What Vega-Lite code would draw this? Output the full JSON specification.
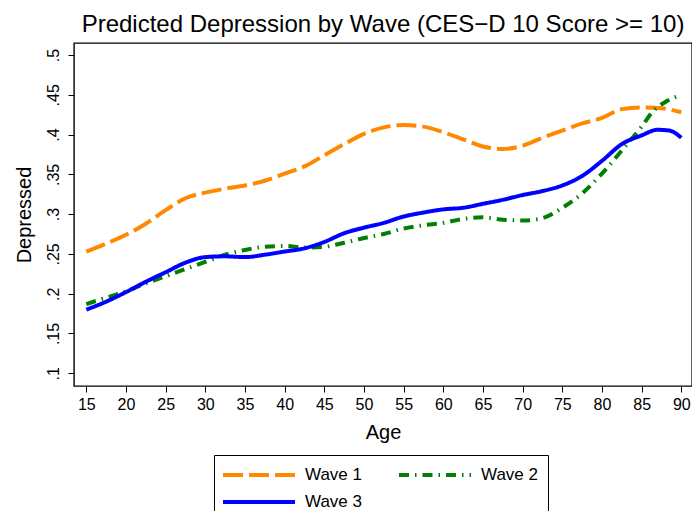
{
  "$schema": "https://vega.github.io/schema/vega-lite/v6.json",
  "autosize": {"type": "none"},
  "width": 618,
  "height": 343,
  "padding": {"left": 74, "top": 43, "right": 0, "bottom": 125},
  "background": "white",
  "title": {
    "text": "Predicted Depression by Wave (CES−D 10 Score >= 10)",
    "font": "Liberation Sans",
    "fontSize": 24,
    "fontWeight": "normal",
    "color": "black",
    "anchor": "middle",
    "frame": "group",
    "baseline": "alphabetic",
    "offset": 11,
    "dy": 24
  },
  "data": {
    "values": [
      {"wave": "Wave 1", "age": 15, "p": 0.253},
      {"wave": "Wave 1", "age": 17.5, "p": 0.263},
      {"wave": "Wave 1", "age": 20, "p": 0.274},
      {"wave": "Wave 1", "age": 22.5, "p": 0.288},
      {"wave": "Wave 1", "age": 25, "p": 0.305},
      {"wave": "Wave 1", "age": 27.5, "p": 0.32},
      {"wave": "Wave 1", "age": 30, "p": 0.327},
      {"wave": "Wave 1", "age": 32.5, "p": 0.332},
      {"wave": "Wave 1", "age": 35, "p": 0.336},
      {"wave": "Wave 1", "age": 37.5, "p": 0.342},
      {"wave": "Wave 1", "age": 40, "p": 0.351},
      {"wave": "Wave 1", "age": 42.5, "p": 0.36},
      {"wave": "Wave 1", "age": 45, "p": 0.374},
      {"wave": "Wave 1", "age": 47.5, "p": 0.388},
      {"wave": "Wave 1", "age": 50, "p": 0.401},
      {"wave": "Wave 1", "age": 52.5, "p": 0.409},
      {"wave": "Wave 1", "age": 55, "p": 0.412},
      {"wave": "Wave 1", "age": 57.5, "p": 0.41},
      {"wave": "Wave 1", "age": 60, "p": 0.403},
      {"wave": "Wave 1", "age": 62.5, "p": 0.394},
      {"wave": "Wave 1", "age": 65, "p": 0.385},
      {"wave": "Wave 1", "age": 67.5, "p": 0.382},
      {"wave": "Wave 1", "age": 70, "p": 0.386},
      {"wave": "Wave 1", "age": 72.5, "p": 0.396},
      {"wave": "Wave 1", "age": 75, "p": 0.405},
      {"wave": "Wave 1", "age": 77.5, "p": 0.414},
      {"wave": "Wave 1", "age": 80, "p": 0.421},
      {"wave": "Wave 1", "age": 82.5, "p": 0.432},
      {"wave": "Wave 1", "age": 85, "p": 0.434},
      {"wave": "Wave 1", "age": 87.5, "p": 0.433},
      {"wave": "Wave 1", "age": 90, "p": 0.428},

      {"wave": "Wave 2", "age": 15, "p": 0.187},
      {"wave": "Wave 2", "age": 17.5, "p": 0.195},
      {"wave": "Wave 2", "age": 20, "p": 0.203},
      {"wave": "Wave 2", "age": 22.5, "p": 0.213},
      {"wave": "Wave 2", "age": 25, "p": 0.222},
      {"wave": "Wave 2", "age": 27.5, "p": 0.231},
      {"wave": "Wave 2", "age": 30, "p": 0.24},
      {"wave": "Wave 2", "age": 32.5, "p": 0.249},
      {"wave": "Wave 2", "age": 35, "p": 0.255},
      {"wave": "Wave 2", "age": 37.5, "p": 0.259},
      {"wave": "Wave 2", "age": 40, "p": 0.26},
      {"wave": "Wave 2", "age": 42.5, "p": 0.258},
      {"wave": "Wave 2", "age": 45, "p": 0.259},
      {"wave": "Wave 2", "age": 47.5, "p": 0.264},
      {"wave": "Wave 2", "age": 50, "p": 0.27},
      {"wave": "Wave 2", "age": 52.5, "p": 0.275},
      {"wave": "Wave 2", "age": 55, "p": 0.282},
      {"wave": "Wave 2", "age": 57.5, "p": 0.286},
      {"wave": "Wave 2", "age": 60, "p": 0.289},
      {"wave": "Wave 2", "age": 62.5, "p": 0.294},
      {"wave": "Wave 2", "age": 65, "p": 0.296},
      {"wave": "Wave 2", "age": 67.5, "p": 0.293},
      {"wave": "Wave 2", "age": 70, "p": 0.292},
      {"wave": "Wave 2", "age": 72.5, "p": 0.295},
      {"wave": "Wave 2", "age": 75, "p": 0.308},
      {"wave": "Wave 2", "age": 77.5, "p": 0.326},
      {"wave": "Wave 2", "age": 80, "p": 0.351},
      {"wave": "Wave 2", "age": 82.5, "p": 0.38},
      {"wave": "Wave 2", "age": 85, "p": 0.41},
      {"wave": "Wave 2", "age": 86.5, "p": 0.43},
      {"wave": "Wave 2", "age": 88, "p": 0.441},
      {"wave": "Wave 2", "age": 90, "p": 0.45},

      {"wave": "Wave 3", "age": 15, "p": 0.18},
      {"wave": "Wave 3", "age": 17.5, "p": 0.19},
      {"wave": "Wave 3", "age": 20, "p": 0.202},
      {"wave": "Wave 3", "age": 22.5, "p": 0.215},
      {"wave": "Wave 3", "age": 25, "p": 0.227},
      {"wave": "Wave 3", "age": 27.5, "p": 0.239},
      {"wave": "Wave 3", "age": 30, "p": 0.246},
      {"wave": "Wave 3", "age": 32.5, "p": 0.247},
      {"wave": "Wave 3", "age": 35, "p": 0.246},
      {"wave": "Wave 3", "age": 37.5, "p": 0.249},
      {"wave": "Wave 3", "age": 40, "p": 0.253},
      {"wave": "Wave 3", "age": 42.5, "p": 0.257},
      {"wave": "Wave 3", "age": 45, "p": 0.265},
      {"wave": "Wave 3", "age": 47.5, "p": 0.276},
      {"wave": "Wave 3", "age": 50, "p": 0.283},
      {"wave": "Wave 3", "age": 52.5, "p": 0.289},
      {"wave": "Wave 3", "age": 55, "p": 0.297},
      {"wave": "Wave 3", "age": 57.5, "p": 0.302},
      {"wave": "Wave 3", "age": 60, "p": 0.306},
      {"wave": "Wave 3", "age": 62.5, "p": 0.308},
      {"wave": "Wave 3", "age": 65, "p": 0.313},
      {"wave": "Wave 3", "age": 67.5, "p": 0.318},
      {"wave": "Wave 3", "age": 70, "p": 0.324},
      {"wave": "Wave 3", "age": 72.5, "p": 0.329},
      {"wave": "Wave 3", "age": 75, "p": 0.336},
      {"wave": "Wave 3", "age": 77.5, "p": 0.348},
      {"wave": "Wave 3", "age": 80, "p": 0.367},
      {"wave": "Wave 3", "age": 82.5, "p": 0.388},
      {"wave": "Wave 3", "age": 85, "p": 0.399},
      {"wave": "Wave 3", "age": 87, "p": 0.406},
      {"wave": "Wave 3", "age": 88.5, "p": 0.405},
      {"wave": "Wave 3", "age": 90, "p": 0.396}
    ]
  },
  "mark": {
    "type": "line",
    "strokeWidth": 4,
    "interpolate": "monotone",
    "strokeCap": "butt"
  },
  "encoding": {
    "x": {
      "field": "age",
      "type": "quantitative",
      "scale": {"domain": [13.45, 91.35], "nice": false, "zero": false},
      "axis": {
        "title": "Age",
        "values": [15, 20, 25, 30, 35, 40, 45, 50, 55, 60, 65, 70, 75, 80, 85, 90],
        "labelPadding": 4,
        "titlePadding": 10
      }
    },
    "y": {
      "field": "p",
      "type": "quantitative",
      "scale": {"domain": [0.084, 0.5151], "nice": false, "zero": false},
      "axis": {
        "title": "Depressed",
        "values": [0.1, 0.15, 0.2, 0.25, 0.3, 0.35, 0.4, 0.45, 0.5],
        "labelExpr": "slice(format(datum.value, '.2~f'), 1)",
        "labelAngle": -90,
        "labelAlign": "center",
        "labelBaseline": "bottom",
        "labelPadding": 7,
        "titlePadding": 11
      }
    },
    "color": {
      "field": "wave",
      "type": "nominal",
      "scale": {
        "domain": ["Wave 1", "Wave 2", "Wave 3"],
        "range": ["#ff8800", "#008000", "#0000ff"]
      },
      "legend": {
        "title": null,
        "orient": "none",
        "legendX": 140,
        "legendY": 412,
        "direction": "horizontal",
        "columns": 2,
        "strokeColor": "black",
        "fillColor": "white",
        "padding": 9,
        "symbolType": "M-4,0H4",
        "symbolSize": 324,
        "symbolStrokeWidth": 4,
        "symbolOffset": 25,
        "labelOffset": 35,
        "labelFont": "Liberation Sans",
        "labelFontSize": 17,
        "labelColor": "black",
        "columnPadding": 28,
        "rowPadding": 8
      }
    },
    "strokeDash": {
      "field": "wave",
      "type": "nominal",
      "scale": {
        "domain": ["Wave 1", "Wave 2", "Wave 3"],
        "range": [[20, 6], [10, 6, 1.5, 6], [1, 0]]
      },
      "legend": null
    }
  },
  "config": {
    "view": {"stroke": "black", "strokeWidth": 1.4},
    "axis": {
      "domain": false,
      "grid": false,
      "ticks": true,
      "tickColor": "black",
      "tickSize": 6,
      "tickWidth": 1,
      "labelFont": "Liberation Sans",
      "labelFontSize": 16,
      "labelColor": "black",
      "titleFont": "Liberation Sans",
      "titleFontSize": 20,
      "titleFontWeight": "normal",
      "titleColor": "black"
    }
  }
}
